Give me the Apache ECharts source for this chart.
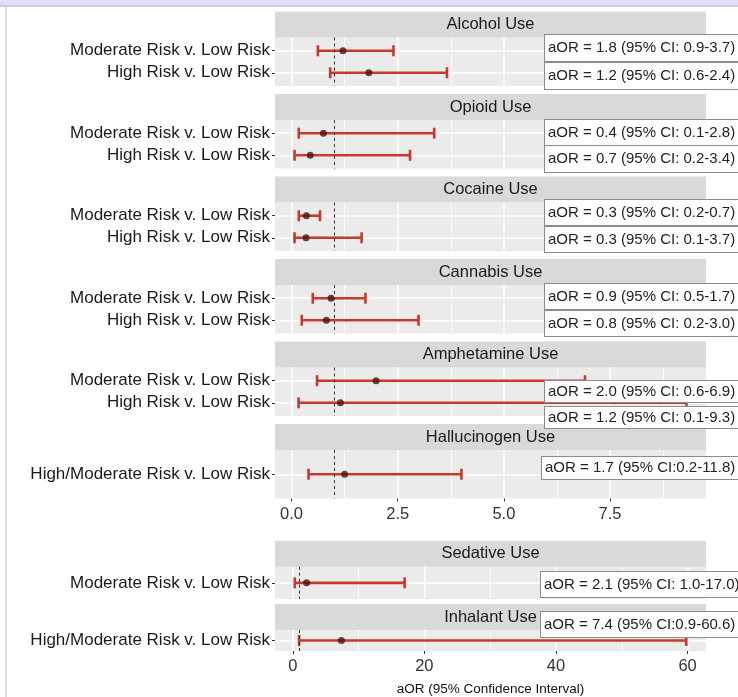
<!DOCTYPE html>
<html>
<head>
<meta charset="utf-8">
<script src="https://cdn.jsdelivr.net/npm/echarts@6/dist/echarts.min.js"></script>
<style>
  html, body { margin: 0; padding: 0; background: #fff; }
  #main { width: 738px; height: 697px; }
</style>
</head>
<body>
<div id="main"></div>
<script>
// facet titles
const upperPanels = ['Alcohol Use', 'Opioid Use', 'Cocaine Use', 'Cannabis Use', 'Amphetamine Use', 'Hallucinogen Use']
const lowerPanels = ['Sedative Use', 'Inhalant Use']

// row labels of each facet (top to bottom)
const rowLabels = [
  ['Moderate Risk v. Low Risk', 'High Risk v. Low Risk'],
  ['Moderate Risk v. Low Risk', 'High Risk v. Low Risk'],
  ['Moderate Risk v. Low Risk', 'High Risk v. Low Risk'],
  ['Moderate Risk v. Low Risk', 'High Risk v. Low Risk'],
  ['Moderate Risk v. Low Risk', 'High Risk v. Low Risk'],
  ['High/Moderate Risk v. Low Risk'],
  ['Moderate Risk v. Low Risk'],
  ['High/Moderate Risk v. Low Risk']
]

// point estimates and CI ends, as plotted
const estimates = [[1.21, 1.82], [0.75, 0.44], [0.35, 0.34], [0.93, 0.82], [1.99, 1.15], [1.25], [2.1], [7.4]]
const lowerCI = [[0.62, 0.91], [0.17, 0.07], [0.17, 0.07], [0.5, 0.24], [0.6, 0.165], [0.4], [0.3], [0.96]]
const upperCI = [[2.4, 3.66], [3.36, 2.79], [0.67, 1.65], [1.74, 2.99], [6.91, 9.3], [4.0], [17.0], [59.8]]

// annotation boxes
const boxTexts = [
  'aOR = 1.8 (95% CI: 0.9-3.7)', 'aOR = 1.2 (95% CI: 0.6-2.4)',
  'aOR = 0.4 (95% CI: 0.1-2.8)', 'aOR = 0.7 (95% CI: 0.2-3.4)',
  'aOR = 0.3 (95% CI: 0.2-0.7)', 'aOR = 0.3 (95% CI: 0.1-3.7)',
  'aOR = 0.9 (95% CI: 0.5-1.7)', 'aOR = 0.8 (95% CI: 0.2-3.0)',
  'aOR = 2.0 (95% CI: 0.6-6.9)', 'aOR = 1.2 (95% CI: 0.1-9.3)',
  'aOR = 1.7 (95% CI:0.2-11.8)',
  'aOR = 2.1 (95% CI: 1.0-17.0)',
  'aOR = 7.4 (95% CI:0.9-60.6)'
]

const upperTicks = [0, 2.5, 5, 7.5]
const upperMinor = [1.25, 3.75, 6.25, 8.75]
const lowerTicks = [0, 20, 40, 60]
const lowerMinor = [10, 30, 50]
const refLine = 1
const xTitle = 'aOR (95% Confidence Interval)'

// layout
const panelLeft = 275
const panelWidth = 431
const stripH = 26
const panelTops = [37.5, 120, 202.5, 285, 367.5, 450, 566.7, 630]
const panelHeights = [48.5, 48.5, 48.5, 48.5, 48.5, 48.5, 32.3, 28.3]
const boxPos = [
  [545, 35], [545, 63], [545, 120], [545, 146], [545, 200], [545, 227],
  [545, 284], [545, 311], [545, 381], [545, 407], [542, 457], [541, 572], [541, 612]
]
const boxHeights = [26, 26, 26, 26, 25, 25, 25, 25, 21, 21, 22, 25, 25]

const red = '#c9382c'
const font = 'Liberation Sans'

let chartDom = document.getElementById('main')
let myChart = echarts.init(chartDom)

let grids = []
let xAxes = []
let yAxes = []
let series = []
let graphics = []

const allPanels = upperPanels.concat(lowerPanels)
allPanels.forEach((name, i) => {
  let isUpper = i < upperPanels.length
  let showX = i === upperPanels.length - 1 || i === allPanels.length - 1
  let ticks = isUpper ? upperTicks : lowerTicks
  let minor = isUpper ? upperMinor : lowerMinor
  let nRows = rowLabels[i].length
  let rowVals = rowLabels[i].map((_, k) => k + 1)

  grids.push({
    left: panelLeft, width: panelWidth, top: panelTops[i], height: panelHeights[i],
    show: true, backgroundColor: '#ebebeb', borderWidth: 0
  })
  xAxes.push({
    type: 'value', gridIndex: i,
    min: isUpper ? -0.39 : -2.7,
    max: isUpper ? 9.76 : 62.8,
    axisLine: {show: false, onZero: false},
    axisTick: {show: showX, length: 3, customValues: ticks, lineStyle: {color: '#333'}},
    axisLabel: {
      show: showX, customValues: ticks, margin: 7,
      fontFamily: font, fontSize: 16.5, color: '#333',
      formatter: v => isUpper ? v.toFixed(1) : String(v)
    },
    splitLine: {show: true, lineStyle: {color: '#fff', width: 1.5}},
    name: i === allPanels.length - 1 ? xTitle : '',
    nameLocation: 'middle', nameGap: 31,
    nameTextStyle: {fontFamily: font, fontSize: 13.5, color: '#111'}
  })
  yAxes.push({
    type: 'value', gridIndex: i, inverse: true,
    min: 0.4, max: nRows + 0.6,
    axisLine: {show: false, onZero: false},
    axisTick: {show: true, length: 3, customValues: rowVals, lineStyle: {color: '#333'}},
    axisLabel: {
      customValues: rowVals, margin: 5,
      fontFamily: font, fontSize: 17, color: '#1a1a1a',
      formatter: v => rowLabels[i][Math.round(v) - 1]
    },
    splitLine: {show: true, lineStyle: {color: '#fff', width: 1.5}}
  })

  let barData = rowLabels[i].map((_, k) => [lowerCI[i][k], upperCI[i][k], k + 1])
  series.push({
    type: 'custom', xAxisIndex: i, yAxisIndex: i, z: 3,
    data: barData,
    renderItem: function (params, api) {
      let a = api.coord([api.value(0), api.value(2)])
      let b = api.coord([api.value(1), api.value(2)])
      let st = {stroke: red, lineWidth: 2.6}
      return {
        type: 'group',
        children: [
          {type: 'line', shape: {x1: a[0], y1: a[1], x2: b[0], y2: b[1]}, style: st},
          {type: 'line', shape: {x1: a[0], y1: a[1] - 5.5, x2: a[0], y2: a[1] + 5.5}, style: st},
          {type: 'line', shape: {x1: b[0], y1: b[1] - 5.5, x2: b[0], y2: b[1] + 5.5}, style: st}
        ]
      }
    },
    markLine: {
      silent: true, symbol: 'none', label: {show: false}, z: 1,
      lineStyle: {color: '#fff', width: 0.8, type: 'solid'},
      data: minor.map(v => ({xAxis: v}))
    }
  })
  series.push({
    type: 'scatter', xAxisIndex: i, yAxisIndex: i, z: 4,
    symbolSize: 7,
    itemStyle: {color: '#4a1414'},
    data: rowLabels[i].map((_, k) => [estimates[i][k], k + 1]),
    markLine: {
      silent: true, symbol: 'none', label: {show: false},
      lineStyle: {color: '#333', width: 1, type: [3, 3]},
      data: [{xAxis: refLine}]
    }
  })

  graphics.push({
    type: 'rect', silent: true,
    shape: {x: panelLeft, y: panelTops[i] - stripH, width: panelWidth, height: stripH},
    style: {fill: '#d9d9d9'}
  })
  graphics.push({
    type: 'text', silent: true,
    x: panelLeft + panelWidth / 2, y: panelTops[i] - stripH / 2,
    style: {text: name, font: '16.5px "' + font + '"', fill: '#1a1a1a', align: 'center', verticalAlign: 'middle'}
  })
})

boxTexts.forEach((t, j) => {
  graphics.push({
    type: 'text', silent: true, z: 10,
    x: boxPos[j][0], y: boxPos[j][1],
    style: {
      text: t, font: '15px "' + font + '"', fill: '#222',
      backgroundColor: '#fff', borderColor: '#8c8c8c', borderWidth: 1,
      padding: [(boxHeights[j] - 17) / 2, 12, (boxHeights[j] - 17) / 2, 3], lineHeight: 17
    }
  })
})

// window chrome: top band and left border
graphics.push({type: 'rect', silent: true, shape: {x: 0, y: 0, width: 738, height: 6}, style: {fill: '#dedff7'}})
graphics.push({type: 'rect', silent: true, shape: {x: 0, y: 5, width: 738, height: 2}, style: {fill: '#c9cbe8'}})
graphics.push({type: 'rect', silent: true, shape: {x: 5, y: 7, width: 2, height: 690}, style: {fill: '#dcdcdc'}})

let option = {
  animation: false,
  grid: grids,
  xAxis: xAxes,
  yAxis: yAxes,
  series: series,
  graphic: graphics
}
myChart.setOption(option)
</script>
</body>
</html>
